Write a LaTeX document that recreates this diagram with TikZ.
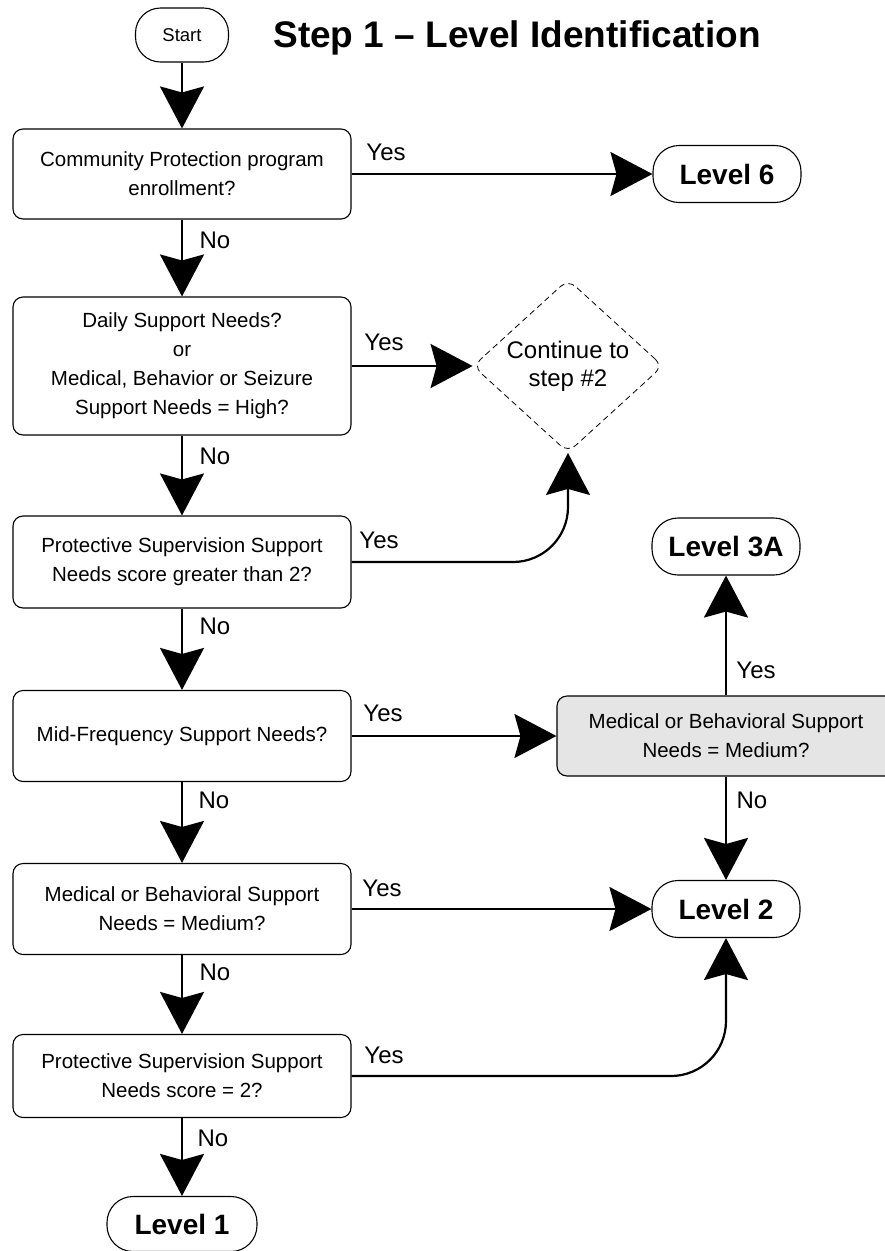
\documentclass[tikz,border=0pt]{standalone}
\usepackage{fontspec}
\setmainfont{Liberation Sans}
\usetikzlibrary{arrows.meta,shapes.geometric}
\begin{document}
\begin{tikzpicture}[x=1pt,y=-1pt,
  qbox/.style={draw, line width=1.1pt, rounded corners=10pt, minimum width=338pt, align=center,
    font=\fontsize{20.5}{29}\selectfont, inner sep=0pt},
  term/.style={draw, line width=1.1pt, rounded corners=26pt, minimum width=148pt, minimum height=57pt,
    font=\bfseries\fontsize{28}{32}\selectfont, inner sep=0pt},
  conn/.style={line width=2.2pt, -{Stealth[length=42pt,width=44pt,inset=6pt]}},
  lab/.style={font=\fontsize{24}{28}\selectfont, inner sep=0pt}
]
\useasboundingbox (0,0) rectangle (885,1251);
\clip (0,0) rectangle (885,1251);

% nodes
\node[draw, line width=1.1pt, rounded corners=25pt, minimum width=93pt, minimum height=54pt,
  inner sep=0pt, font=\fontsize{18.5}{22}\selectfont] (start) at (182,35) {Start};
\node[font=\bfseries\fontsize{37}{40}\selectfont, inner sep=0pt] (title) at (517,38) {Step 1 -- Level Identification};

\node[qbox, minimum height=90pt] (b1) at (182,174) {Community Protection program\\enrollment?};
\node[qbox, minimum height=138pt] (b2) at (182,366) {Daily Support Needs?\\or\\Medical, Behavior or Seizure\\Support Needs = High?};
\node[qbox, minimum height=92pt] (b3) at (182,562) {Protective Supervision Support\\Needs score greater than 2?};
\node[qbox, minimum height=91pt] (b4) at (182,736) {Mid-Frequency Support Needs?};
\node[qbox, minimum height=91pt] (b5) at (182,909) {Medical or Behavioral Support\\Needs = Medium?};
\node[qbox, minimum height=83pt] (b6) at (182,1076) {Protective Supervision Support\\Needs score = 2?};
\node[term, minimum width=150pt, minimum height=55pt] (l1) at (182,1224) {Level 1};

\node[term] (l6) at (727,174) {Level 6};
\node[term] (l3a) at (726,546.5) {Level 3A};
\node[term] (l2) at (726,909) {Level 2};
\node[qbox, minimum height=80pt, fill=black!10] (mb) at (726,736) {Medical or Behavioral Support\\Needs = Medium?};
\node[diamond, draw, dashed, dash pattern=on 6pt off 4pt, line width=0.8pt, rounded corners=10pt,
  minimum width=190pt, minimum height=166pt, inner sep=0pt, align=center,
  font=\fontsize{24}{28}\selectfont] (dia) at (568,366) {Continue to\\step \#2};

% connectors
\draw[conn] (start) -- (b1);
\draw[conn] (b1) -- (b2);
\draw[conn] (b2) -- (b3);
\draw[conn] (b3) -- (b4);
\draw[conn] (b4) -- (b5);
\draw[conn] (b5) -- (b6);
\draw[conn] (b6) -- (l1);
\draw[conn] (b1.east) -- (l6.west);
\draw[conn] (b2.east) -- (dia.west);
\draw[conn, rounded corners=55pt] (b3.east) -| (dia.south);
\draw[conn] (b4.east) -- (mb.west);
\draw[conn] (mb.north) -- (l3a.south);
\draw[conn] (mb.south) -- (l2.north);
\draw[conn] (b5.east) -- (l2.west);
\draw[conn, rounded corners=55pt] (b6.east) -| (l2.south);

% labels
\node[lab] (y1) at (386,152) {Yes};
\node[lab] (n1) at (215,240) {No};
\node[lab] (y2) at (384,342) {Yes};
\node[lab] (n2) at (215,456) {No};
\node[lab] (y3) at (379,540) {Yes};
\node[lab] (n3) at (215,626) {No};
\node[lab] (y4) at (383,713) {Yes};
\node[lab] (n4) at (214,800) {No};
\node[lab] (y5) at (382,888) {Yes};
\node[lab] (n5) at (215,972) {No};
\node[lab] (y6) at (384,1055) {Yes};
\node[lab] (n6) at (213,1138) {No};
\node[lab] (y7) at (756,670) {Yes};
\node[lab] (n7) at (752,800) {No};
\end{tikzpicture}
\end{document}
